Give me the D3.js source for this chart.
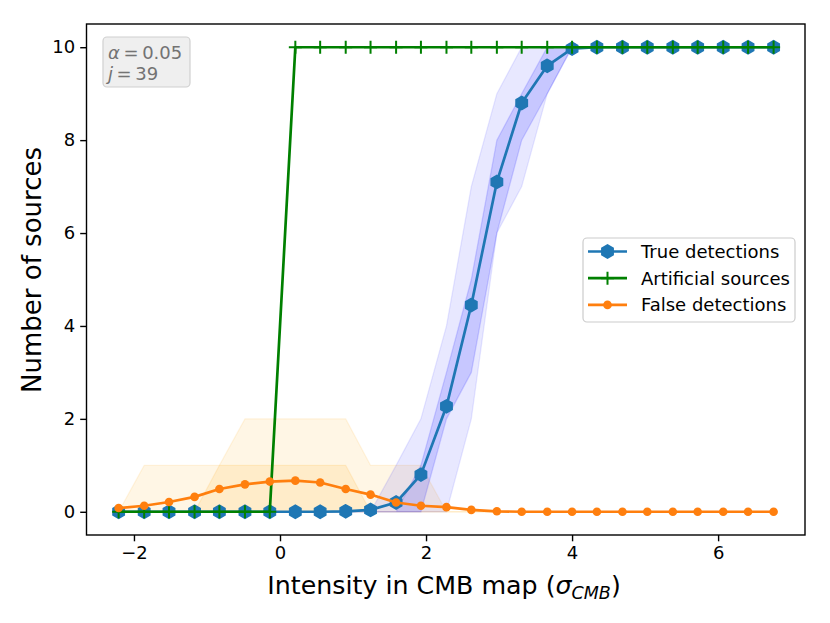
<!DOCTYPE html>
<html>
<head>
<meta charset="UTF-8">
<style>
  body { margin: 0; background: #fff; }
  svg { display: block; font-family: "DejaVu Sans", sans-serif; }
</style>
</head>
<body>
<svg width="830" height="623"></svg>
<script src="https://d3js.org/d3.v7.min.js"></script>
<script>
// intensity of the injected sources (sigma_CMB)
const xValues = [-2.21, -1.86, -1.52, -1.17, -0.83, -0.48, -0.14, 0.21, 0.55, 0.90,
                 1.24, 1.59, 1.93, 2.28, 2.62, 2.97, 3.31, 3.66, 4.00, 4.34,
                 4.69, 5.03, 5.38, 5.72, 6.07, 6.41, 6.76];

// mean curves
const trueDetections = [0, 0, 0, 0, 0, 0, 0, 0, 0, 0.01, 0.04, 0.2, 0.8, 2.27, 4.45, 7.1,
                        8.8, 9.6, 9.97, 10, 10, 10, 10, 10, 10, 10, 10];
const artificialSources = [0, 0, 0, 0, 0, 0, 0, 10, 10, 10, 10, 10, 10, 10, 10, 10,
                           10, 10, 10, 10, 10, 10, 10, 10, 10, 10, 10];
const falseDetections = [0.08, 0.13, 0.21, 0.32, 0.49, 0.59, 0.65, 0.67, 0.63, 0.49, 0.37,
                         0.2, 0.13, 0.10, 0.04, 0.01, 0, 0, 0, 0, 0, 0, 0, 0, 0, 0, 0];

// spread bands
const trueOuterLow  = [0, 0, 0, 0, 0, 0, 0, 0, 0, 0, 0, 0, 0, 0, 2, 6, 7, 9, 10, 10, 10, 10, 10, 10, 10, 10, 10];
const trueOuterHigh = [0, 0, 0, 0, 0, 0, 0, 0, 0, 0, 0, 1, 2, 4, 7, 9, 10, 10, 10, 10, 10, 10, 10, 10, 10, 10, 10];
const trueInnerLow  = [0, 0, 0, 0, 0, 0, 0, 0, 0, 0, 0, 0, 0, 2, 3, 6, 8, 9, 10, 10, 10, 10, 10, 10, 10, 10, 10];
const trueInnerHigh = [0, 0, 0, 0, 0, 0, 0, 0, 0, 0, 0, 0, 1, 3, 5, 8, 9, 10, 10, 10, 10, 10, 10, 10, 10, 10, 10];
const falseLow       = [0, 0, 0, 0, 0, 0, 0, 0, 0, 0, 0, 0, 0, 0, 0, 0, 0, 0, 0, 0, 0, 0, 0, 0, 0, 0, 0];
const falseOuterHigh = [0, 1, 1, 1, 1, 2, 2, 2, 2, 2, 1, 1, 1, 0, 0, 0, 0, 0, 0, 0, 0, 0, 0, 0, 0, 0, 0];
const falseInnerHigh = [0, 0, 0, 0, 1, 1, 1, 1, 1, 1, 0, 0, 0, 0, 0, 0, 0, 0, 0, 0, 0, 0, 0, 0, 0, 0, 0];

const xTicks = [-2, 0, 2, 4, 6];
const yTicks = [0, 2, 4, 6, 8, 10];

const blue = "#1f77b4", green = "#008000", orange = "#ff7f0e";

const svg = d3.select("svg");
const margin = { left: 86.5, right: 25, top: 24, bottom: 88 };
const W = 830, H = 623;

const x = d3.scaleLinear().domain([-2.65, 7.19]).range([margin.left, W - margin.right]);
const y = d3.scaleLinear().domain([-0.5, 10.5]).range([H - margin.bottom, margin.top]);

const plot = svg.append("g");

// bands
function band(low, high, color, alpha) {
  const area = d3.area()
    .x((d, i) => x(xValues[i]))
    .y0((d, i) => y(low[i]))
    .y1((d, i) => y(high[i]));
  plot.append("path")
    .attr("d", area(xValues))
    .attr("fill", color)
    .attr("fill-opacity", alpha)
    .attr("stroke", color)
    .attr("stroke-opacity", alpha)
    .attr("stroke-width", 1.3);
}
band(falseLow, falseOuterHigh, "#ffa500", 0.1);
band(falseLow, falseInnerHigh, "#ffa500", 0.12);
band(trueOuterLow, trueOuterHigh, "#0000ff", 0.09);
band(trueInnerLow, trueInnerHigh, "#0000ff", 0.14);

// hexagon with a vertex on top
function hexPath(r) {
  const pts = d3.range(6).map(k => {
    const a = Math.PI / 2 + k * Math.PI / 3;
    return [r * Math.cos(a), -r * Math.sin(a)];
  });
  return "M" + pts.map(p => p.join(",")).join("L") + "Z";
}

const line = vals => d3.line().x((d, i) => x(xValues[i])).y((d, i) => y(vals[i]))(xValues);

function drawSeries(g, vals, color, marker) {
  g.append("path").attr("d", line(vals)).attr("fill", "none")
    .attr("stroke", color).attr("stroke-width", 2.7).attr("stroke-linejoin", "round");
  const pts = g.append("g").selectAll("g").data(vals).join("g")
    .attr("transform", (d, i) => `translate(${x(xValues[i])},${y(d)})`);
  marker(pts, color);
}

const hexMarker = (sel, color) => sel.append("path").attr("d", hexPath(6.5))
  .attr("fill", color).attr("stroke", color).attr("stroke-width", 1.6);
const plusMarker = (sel, color) => sel.append("path").attr("d", "M-6.5,0H6.5M0,-6.5V6.5")
  .attr("stroke", color).attr("stroke-width", 2);
const dotMarker = (sel, color) => sel.append("circle").attr("r", 4.3).attr("fill", color);

drawSeries(plot.append("g"), trueDetections, blue, hexMarker);
drawSeries(plot.append("g"), artificialSources, green, plusMarker);
drawSeries(plot.append("g"), falseDetections, orange, dotMarker);

// axes
const xAxis = svg.append("g").attr("transform", `translate(0,${H - margin.bottom})`)
  .call(d3.axisBottom(x).tickValues(xTicks).tickSize(6.3).tickPadding(5));
const yAxis = svg.append("g").attr("transform", `translate(${margin.left},0)`)
  .call(d3.axisLeft(y).tickValues(yTicks).tickSize(6.3).tickPadding(5));
[xAxis, yAxis].forEach(a => {
  a.select(".domain").remove();
  a.selectAll(".tick line").attr("stroke", "#000").attr("stroke-width", 1.4);
  a.selectAll(".tick text").attr("font-size", 18).attr("font-family", "DejaVu Sans").attr("fill", "#000");
});

svg.append("rect")
  .attr("x", margin.left).attr("y", margin.top)
  .attr("width", W - margin.right - margin.left).attr("height", H - margin.bottom - margin.top)
  .attr("fill", "none").attr("stroke", "#000").attr("stroke-width", 1.4);

// axis labels
const xl = svg.append("text").attr("x", 444).attr("y", 594).attr("text-anchor", "middle")
  .attr("font-size", 25.3);
xl.append("tspan").text("Intensity in CMB map (");
xl.append("tspan").attr("font-style", "italic").text("σ");
xl.append("tspan").attr("font-style", "italic").attr("font-size", 17.5).attr("dy", 5).text("CMB");
xl.append("tspan").attr("dy", -5).text(")");

svg.append("text").attr("transform", "translate(41,270) rotate(-90)")
  .attr("text-anchor", "middle").attr("font-size", 26).text("Number of sources");

// annotation box
svg.append("rect").attr("x", 103).attr("y", 37).attr("width", 87).attr("height", 50)
  .attr("rx", 4).attr("fill", "#efefef").attr("stroke", "#d0d0d0").attr("stroke-width", 1.2);
const a1 = svg.append("text").attr("x", 108).attr("y", 59).attr("font-size", 18).attr("fill", "#737373");
a1.append("tspan").attr("font-style", "italic").text("α");
a1.append("tspan").text("\u2009=\u20090.05");
const a2 = svg.append("text").attr("x", 108).attr("y", 80).attr("font-size", 18).attr("fill", "#737373");
a2.append("tspan").attr("font-style", "italic").text("j");
a2.append("tspan").text("\u2009=\u200939");

// legend
const legendItems = [
  { label: "True detections", color: blue, marker: hexMarker },
  { label: "Artificial sources", color: green, marker: plusMarker },
  { label: "False detections", color: orange, marker: dotMarker }
];
const lg = svg.append("g");
lg.append("rect").attr("x", 583).attr("y", 238).attr("width", 212).attr("height", 84)
  .attr("rx", 4).attr("fill", "#fff").attr("fill-opacity", 0.8)
  .attr("stroke", "#cccccc").attr("stroke-width", 1.2);
legendItems.forEach((d, i) => {
  const row = lg.append("g").attr("transform", `translate(0,${251.5 + i * 26.7})`);
  row.append("line").attr("x1", 588).attr("x2", 627).attr("stroke", d.color).attr("stroke-width", 2.7);
  d.marker(row.append("g").attr("transform", "translate(607.5,0)"), d.color);
  row.append("text").attr("x", 641).attr("y", 6.5).attr("font-size", 18).text(d.label);
});
</script>
</body>
</html>
